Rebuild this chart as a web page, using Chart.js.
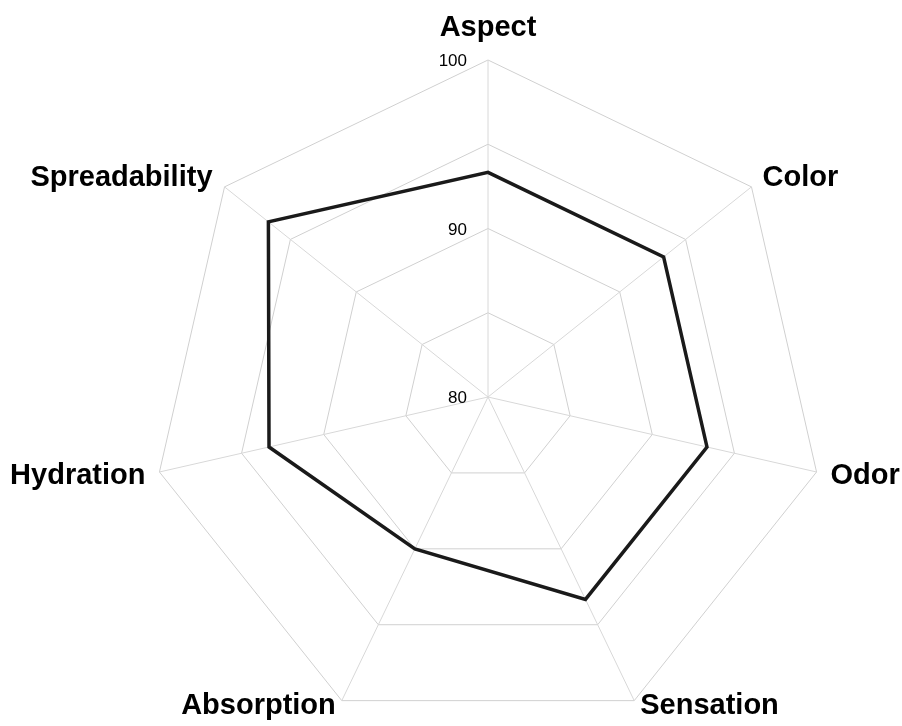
<!DOCTYPE html>
<html>
<head>
<meta charset="utf-8">
<script src="https://cdn.jsdelivr.net/npm/chart.js@4.4.1/dist/chart.umd.min.js"></script>
<style>
  html, body { margin: 0; padding: 0; background: #fff; overflow: hidden; }
  #wrap { width: 902px; height: 734px; }
</style>
</head>
<body>
<div id="wrap"><canvas id="radar"></canvas></div>
<script>
const categories = ['Aspect', 'Color', 'Odor', 'Sensation', 'Absorption', 'Hydration', 'Spreadability'];
const scores = [93.33, 93.33, 93.33, 93.33, 90, 93.33, 96.67];
const tickLabels = [80, 90, 100];

const FONT = '"Liberation Sans", Arial, sans-serif';

// tick numbers sit left of the vertical axis, and the category names
// are placed around the outer ring the way the original spreadsheet did it
const radarText = {
    id: 'radarText',
    afterDraw(chart) {
        const r = chart.scales.r;
        const ctx = chart.ctx;
        ctx.save();
        ctx.fillStyle = '#000';

        ctx.font = '17px ' + FONT;
        ctx.textAlign = 'right';
        ctx.textBaseline = 'alphabetic';
        tickLabels.forEach(v => {
            const d = r.getDistanceFromCenterForValue(v);
            ctx.fillText(String(v), r.xCenter - 21, r.yCenter - d + 6);
        });

        ctx.font = 'bold 29px ' + FONT;
        categories.forEach((name, i) => {
            const p = r.getPointPosition(i, r.drawingArea);
            const deg = (360 / categories.length) * i;
            let x = p.x, y = p.y, align = 'center';
            if (deg === 0) {
                y -= 24;
            } else if (deg < 90 || deg > 270) {
                align = deg < 180 ? 'left' : 'right';
                x += deg < 180 ? 11 : -12;
                y -= 1;
            } else if (deg < 135 || deg > 225) {
                align = deg < 180 ? 'left' : 'right';
                x += deg < 180 ? 14 : -14;
                y += 12;
            } else {
                align = deg < 180 ? 'left' : 'right';
                x += deg < 180 ? 6 : -6;
                y += 13;
            }
            ctx.textAlign = align;
            ctx.fillText(name, x, y);
        });
        ctx.restore();
    }
};

new Chart(document.getElementById('radar'), {
    type: 'radar',
    data: {
        labels: categories,
        datasets: [{
            data: scores,
            borderColor: '#1a1a1a',
            borderWidth: 3.5,
            fill: false,
            pointRadius: 0,
            tension: 0
        }]
    },
    options: {
        responsive: true,
        maintainAspectRatio: false,
        animation: false,
        layout: { padding: { top: 60, bottom: 0, left: 151, right: 77 } },
        plugins: {
            legend: { display: false },
            tooltip: { enabled: false }
        },
        scales: {
            r: {
                min: 80,
                max: 100,
                ticks: { stepSize: 5, display: false },
                grid: { color: '#d0d0d0', lineWidth: 1 },
                angleLines: { color: '#d8d8d8', lineWidth: 1 },
                pointLabels: { display: false }
            }
        }
    },
    plugins: [radarText]
});
</script>
</body>
</html>
